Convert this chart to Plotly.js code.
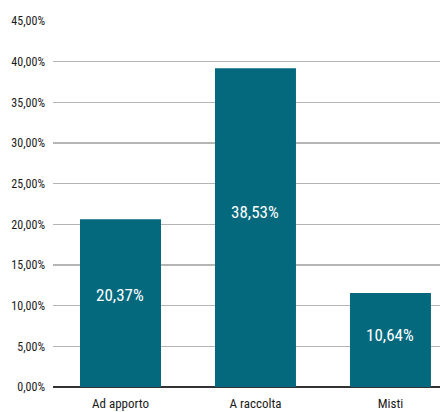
<!DOCTYPE html>
<html>
<head>
<meta charset="utf-8">
<script src="https://cdn.plot.ly/plotly-3.0.1.min.js"></script>
<style>html,body{margin:0;padding:0;background:#fff;}#chart{width:440px;height:412px;}</style>
</head>
<body>
<div id="chart"></div>
<script>
const categories = ["Ad apporto", "A raccolta", "Misti"];
const barValues = [20.64, 39.19, 11.55];
const labelTexts = ["20,37%", "38,53%", "10,64%"];

const FONT = "Roboto Condensed, Roboto, sans-serif";
const BAR = "#05697e";

const trace = {
  type: "bar",
  x: categories,
  y: barValues,
  width: 0.6,
  marker: {color: BAR},
  hoverinfo: "skip"
};

const annotations = categories.map((c, i) => ({
  x: c, y: barValues[i] * 0.55, xref: "x", yref: "y",
  text: labelTexts[i], showarrow: false,
  font: {family: FONT, size: 17, color: "#ffffff"}
}));

const layout = {
  width: 440, height: 412,
  margin: {l: 53, r: 0, t: 21, b: 25},
  paper_bgcolor: "#fff", plot_bgcolor: "#fff",
  separators: ",.",
  showlegend: false,
  xaxis: {
    range: [-0.5, 2.367],
    showgrid: false, showline: false, zeroline: false,
    ticks: "", ticklabelstandoff: 7,
    tickfont: {family: FONT, size: 13, color: "#1a1a1a"}
  },
  yaxis: {
    range: [0, 45], dtick: 5, tick0: 0,
    tickformat: ".2f", ticksuffix: "%",
    showgrid: true, gridcolor: "#b5b5b5", gridwidth: 1.5,
    zeroline: true, zerolinecolor: "#333", zerolinewidth: 1.5,
    showline: false, ticks: "", ticklabelstandoff: 7,
    tickfont: {family: FONT, size: 12, color: "#1a1a1a"}
  },
  annotations: annotations
};

Plotly.newPlot("chart", [trace], layout, {displayModeBar: false, staticPlot: true});
</script>
</body>
</html>
